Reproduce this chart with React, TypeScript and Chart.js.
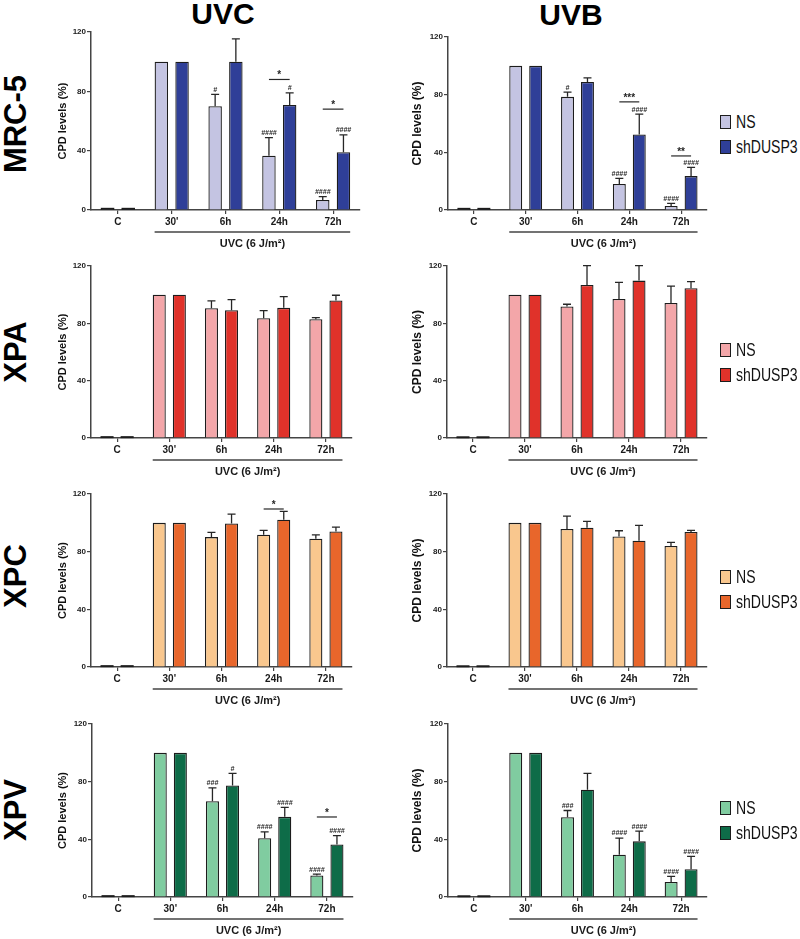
import React, { useEffect, useRef } from 'react';
import { Chart, registerables } from 'chart.js';

Chart.register(...registerables);

const SANS = '"Liberation Sans", Arial, Helvetica, sans-serif';

// ---------- data ----------
const categories = ['C', "30'", '6h', '24h', '72h'];
const yTickValues = [0, 40, 80, 120];
const seriesNames = ['NS', 'shDUSP3'];
const columnTitles = ['UVC', 'UVB'];
const rowTitles = ['MRC-5', 'XPA', 'XPC', 'XPV'];
const yAxisTitle = 'CPD levels (%)';
const doseLabel = 'UVC (6 J/m²)';

// MRC-5
const mrc5UvcNS = [0.8, 100, 70, 36.6, 6.7];
const mrc5UvcNSErr = [0, 0, 8, 12.2, 2.3];
const mrc5UvcSh = [0.8, 100, 100, 70.8, 38.9];
const mrc5UvcShErr = [0, 0, 15.3, 8.2, 11.7];
const mrc5UvcNSMarks = ['', '', '#', '####', '####'];
const mrc5UvcShMarks = ['', '', '', '#', '####'];
const mrc5UvcSig = [{ cat: 3, level: 88, label: '*' }, { cat: 4, level: 68, label: '*' }];

const mrc5UvbNS = [0.8, 100, 78.5, 18, 2.8];
const mrc5UvbNSErr = [0, 0, 3.2, 4, 1.8];
const mrc5UvbSh = [0.8, 100, 88.8, 52.4, 23.5];
const mrc5UvbShErr = [0, 0, 2.8, 14.1, 6];
const mrc5UvbNSMarks = ['', '', '#', '####', '####'];
const mrc5UvbShMarks = ['', '', '', '####', '####'];
const mrc5UvbSig = [{ cat: 3, level: 75, label: '***' }, { cat: 4, level: 37.5, label: '**' }];

// XPA
const xpaUvcNS = [0.6, 100, 90.5, 83.6, 82.9];
const xpaUvcNSErr = [0, 0, 5.1, 5.3, 1.1];
const xpaUvcSh = [0.6, 100, 89.1, 90.8, 95.9];
const xpaUvcShErr = [0, 0, 7.5, 7.9, 3.7];

const xpaUvbNS = [0.5, 100, 91.7, 97, 94.2];
const xpaUvbNSErr = [0, 0, 1.6, 11.6, 11.8];
const xpaUvbSh = [0.5, 100, 106.8, 109.8, 104.5];
const xpaUvbShErr = [0, 0, 13.4, 10.4, 4.6];

// XPC
const xpcUvcNS = [0.6, 100, 90.1, 91.7, 89];
const xpcUvcNSErr = [0, 0, 3.3, 3, 2.7];
const xpcUvcSh = [0.6, 100, 99.6, 102.2, 94];
const xpcUvcShErr = [0, 0, 6.4, 5.8, 3];
const xpcUvcSig = [{ cat: 3, level: 109.6, label: '*' }];

const xpcUvbNS = [0.5, 100, 95.7, 90.5, 83.9];
const xpcUvbNSErr = [0, 0, 9, 4, 2.5];
const xpcUvbSh = [0.5, 100, 96.6, 87.6, 93.6];
const xpcUvbShErr = [0, 0, 4.4, 10.6, 1.1];

// XPV
const xpvUvcNS = [0.6, 100, 66.5, 40.8, 15];
const xpvUvcNSErr = [0, 0, 9.2, 4.4, 0.8];
const xpvUvcSh = [0.6, 100, 77.4, 55.6, 36.4];
const xpvUvcShErr = [0, 0, 8.3, 6.5, 6.2];
const xpvUvcNSMarks = ['', '', '###', '####', '####'];
const xpvUvcShMarks = ['', '', '#', '####', '####'];
const xpvUvcSig = [{ cat: 4, level: 55.5, label: '*' }];

const xpvUvbNS = [0.5, 100, 55.4, 29.3, 10.4];
const xpvUvbNSErr = [0, 0, 4.6, 11.6, 3.9];
const xpvUvbSh = [0.5, 100, 74.4, 38.6, 19.2];
const xpvUvbShErr = [0, 0, 11.3, 7.1, 9];
const xpvUvbNSMarks = ['', '', '###', '####', '####'];
const xpvUvbShMarks = ['', '', '', '####', '####'];

const noMarks = ['', '', '', '', ''];

// colours per cell line [NS, shDUSP3]
const mrc5Colors = ['#c4c4e2', '#2f3f98'];
const xpaColors = ['#f3a6a9', '#e0322a'];
const xpcColors = ['#f9c78e', '#e8662b'];
const xpvColors = ['#80cca0', '#0e6c48'];

type Sig = { cat: number; level: number; label: string };

type PanelDef = {
  col: number;
  chartLeft: number;
  chartRight: number;
  chartTop: number;
  chartBottom: number;
  ns: number[];
  nsErr: number[];
  sh: number[];
  shErr: number[];
  nsMarks: string[];
  shMarks: string[];
  sig: Sig[];
  colors: string[];
};

const panels: PanelDef[] = [
  { col: 0, chartLeft: 91, chartRight: 360, chartTop: 32, chartBottom: 210, ns: mrc5UvcNS, nsErr: mrc5UvcNSErr, sh: mrc5UvcSh, shErr: mrc5UvcShErr, nsMarks: mrc5UvcNSMarks, shMarks: mrc5UvcShMarks, sig: mrc5UvcSig, colors: mrc5Colors },
  { col: 1, chartLeft: 448, chartRight: 707, chartTop: 37, chartBottom: 210, ns: mrc5UvbNS, nsErr: mrc5UvbNSErr, sh: mrc5UvbSh, shErr: mrc5UvbShErr, nsMarks: mrc5UvbNSMarks, shMarks: mrc5UvbShMarks, sig: mrc5UvbSig, colors: mrc5Colors },
  { col: 0, chartLeft: 91, chartRight: 352, chartTop: 266, chartBottom: 438, ns: xpaUvcNS, nsErr: xpaUvcNSErr, sh: xpaUvcSh, shErr: xpaUvcShErr, nsMarks: noMarks, shMarks: noMarks, sig: [], colors: xpaColors },
  { col: 1, chartLeft: 447, chartRight: 707, chartTop: 266, chartBottom: 438, ns: xpaUvbNS, nsErr: xpaUvbNSErr, sh: xpaUvbSh, shErr: xpaUvbShErr, nsMarks: noMarks, shMarks: noMarks, sig: [], colors: xpaColors },
  { col: 0, chartLeft: 91, chartRight: 352, chartTop: 494, chartBottom: 667, ns: xpcUvcNS, nsErr: xpcUvcNSErr, sh: xpcUvcSh, shErr: xpcUvcShErr, nsMarks: noMarks, shMarks: noMarks, sig: xpcUvcSig, colors: xpcColors },
  { col: 1, chartLeft: 447, chartRight: 707, chartTop: 494, chartBottom: 667, ns: xpcUvbNS, nsErr: xpcUvbNSErr, sh: xpcUvbSh, shErr: xpcUvbShErr, nsMarks: noMarks, shMarks: noMarks, sig: [], colors: xpcColors },
  { col: 0, chartLeft: 92, chartRight: 353, chartTop: 724, chartBottom: 897, ns: xpvUvcNS, nsErr: xpvUvcNSErr, sh: xpvUvcSh, shErr: xpvUvcShErr, nsMarks: xpvUvcNSMarks, shMarks: xpvUvcShMarks, sig: xpvUvcSig, colors: xpvColors },
  { col: 1, chartLeft: 448, chartRight: 707, chartTop: 724, chartBottom: 897, ns: xpvUvbNS, nsErr: xpvUvbNSErr, sh: xpvUvbSh, shErr: xpvUvbShErr, nsMarks: xpvUvbNSMarks, shMarks: xpvUvbShMarks, sig: [], colors: xpvColors },
];

const rowLabelY = [124, 352, 576, 810];
const legendY = [122, 350, 577, 808];

const INK = '#262626';

function makeExtras(p: PanelDef) {
  return {
    id: 'extras',
    afterDatasetsDraw(chart: any) {
      const ctx = chart.ctx;
      const ys = chart.scales.y;
      const errs = [p.nsErr, p.shErr];
      const marks = [p.nsMarks, p.shMarks];
      ctx.save();
      ctx.strokeStyle = INK;
      ctx.fillStyle = INK;
      for (let di = 0; di < 2; di++) {
        const meta = chart.getDatasetMeta(di);
        const vals = chart.data.datasets[di].data as number[];
        meta.data.forEach((bar: any, i: number) => {
          // very short bars: show their outline as a flat dark line
          if (Math.abs(bar.base - bar.y) < 3) {
            ctx.fillStyle = '#1c1c1c';
            ctx.fillRect(bar.x - bar.width / 2, bar.y - 1, bar.width, Math.max(2, bar.base - bar.y + 1));
            ctx.fillStyle = INK;
          }
          const e = errs[di][i];
          let topPx = bar.y;
          if (e > 0) {
            const ep = ys.getPixelForValue(vals[i] + e);
            ctx.beginPath();
            ctx.lineWidth = 1.3;
            ctx.moveTo(bar.x, bar.y);
            ctx.lineTo(bar.x, ep);
            ctx.moveTo(bar.x - 4, ep);
            ctx.lineTo(bar.x + 4, ep);
            ctx.stroke();
            topPx = ep;
          }
          const m = marks[di][i];
          if (m) {
            ctx.font = 'italic bold 7px ' + SANS;
            ctx.textAlign = 'center';
            ctx.textBaseline = 'bottom';
            ctx.fillText(m, bar.x, topPx - 1);
          }
        });
      }
      // significance brackets
      p.sig.forEach((s) => {
        const a = chart.getDatasetMeta(0).data[s.cat];
        const b = chart.getDatasetMeta(1).data[s.cat];
        const yp = ys.getPixelForValue(s.level);
        ctx.beginPath();
        ctx.lineWidth = 1.2;
        ctx.moveTo(a.x, yp);
        ctx.lineTo(b.x, yp);
        ctx.stroke();
        ctx.font = 'bold 10px ' + SANS;
        ctx.textAlign = 'center';
        ctx.textBaseline = 'alphabetic';
        ctx.fillText(s.label, (a.x + b.x) / 2, yp - 1);
      });
      // dose bracket line + label
      const first: any = chart.getDatasetMeta(0).data[1];
      const last: any = chart.getDatasetMeta(1).data[4];
      const x0 = first.x - first.width / 2;
      const x1 = last.x + last.width / 2;
      const lineY = p.chartBottom - p.chartTop + 12 + 22;
      ctx.beginPath();
      ctx.lineWidth = 1.5;
      ctx.strokeStyle = '#444';
      ctx.moveTo(x0, lineY);
      ctx.lineTo(x1, lineY);
      ctx.stroke();
      ctx.font = 'bold 11px ' + SANS;
      ctx.textAlign = 'center';
      ctx.textBaseline = 'middle';
      ctx.fillStyle = '#1a1a1a';
      ctx.fillText(doseLabel, (x0 + x1) / 2, lineY + 12);
      ctx.restore();
    },
  };
}

function Panel({ p }: { p: PanelDef }) {
  const ref = useRef<HTMLCanvasElement | null>(null);
  const canvasLeft = p.col === 0 ? 40 : 400;
  const canvasTop = p.chartTop - 12;
  const canvasW = p.chartRight + 8 - canvasLeft;
  const canvasH = p.chartBottom + 46 - canvasTop;
  const yAxisW = p.chartLeft - canvasLeft;
  const titleSize = p.col === 0 ? 11 : 12;
  const titleCenterX = p.col === 0 ? 63 : 418;
  const titlePad = titleCenterX - canvasLeft - (titleSize * 1.2) / 2;

  useEffect(() => {
    if (!ref.current) return;
    const chart = new Chart(ref.current, {
      type: 'bar',
      data: {
        labels: categories,
        datasets: [
          { label: seriesNames[0], data: p.ns, backgroundColor: p.colors[0], borderColor: '#1c1c1c', borderWidth: 1.3, categoryPercentage: 0.77, barPercentage: 0.65 },
          { label: seriesNames[1], data: p.sh, backgroundColor: p.colors[1], borderColor: '#1c1c1c', borderWidth: 1.3, categoryPercentage: 0.77, barPercentage: 0.65 },
        ],
      },
      options: {
        animation: false,
        responsive: false,
        maintainAspectRatio: false,
        layout: { padding: { left: 0, top: 12, right: 8, bottom: 0 } },
        plugins: { legend: { display: false }, tooltip: { enabled: false }, title: { display: false } },
        scales: {
          x: {
            offset: true,
            grid: { display: true, drawOnChartArea: false, drawTicks: true, tickLength: 4, offset: false, color: '#444', lineWidth: 1.2 },
            border: { display: true, color: '#444', width: 1.5 },
            ticks: { color: '#1a1a1a', font: { family: SANS, size: 10, weight: 'bold' }, padding: 2, maxRotation: 0, autoSkip: false },
            afterFit: (s: any) => { s.height = 46; },
          },
          y: {
            min: 0,
            max: 120,
            afterBuildTicks: (s: any) => { s.ticks = yTickValues.map((v) => ({ value: v })); },
            grid: { display: true, drawOnChartArea: false, drawTicks: true, tickLength: 4, color: '#444', lineWidth: 1.2 },
            border: { display: true, color: '#444', width: 1.5 },
            ticks: { color: '#1a1a1a', font: { family: SANS, size: 8, weight: 'bold' }, padding: 1 },
            title: { display: true, text: yAxisTitle, color: '#111', font: { family: SANS, size: titleSize, weight: 'bold' }, padding: { top: titlePad, bottom: 0 } },
            afterFit: (s: any) => { s.width = yAxisW; },
          },
        },
      },
      plugins: [makeExtras(p)],
    } as any);
    return () => chart.destroy();
  }, []);

  return (
    <canvas
      ref={ref}
      width={canvasW}
      height={canvasH}
      style={{ position: 'absolute', left: canvasLeft, top: canvasTop, width: canvasW, height: canvasH }}
    />
  );
}

function Legend({ y, colors }: { y: number; colors: string[] }) {
  return (
    <>
      {seriesNames.map((n, i) => (
        <div key={n} style={{ position: 'absolute', left: 720, top: y + i * 25 - 10, height: 20, display: 'flex', alignItems: 'center' }}>
          <div style={{ width: 11, height: 14, background: colors[i], border: '1.3px solid #1c1c1c', boxSizing: 'border-box', flex: 'none' }} />
          <span style={{ marginLeft: 5, fontFamily: SANS, fontSize: 18, color: '#111', lineHeight: '20px', display: 'inline-block', transform: 'scaleX(0.78)', transformOrigin: 'left center', whiteSpace: 'nowrap' }}>{n}</span>
        </div>
      ))}
    </>
  );
}

export default function App() {
  const legendColors = [mrc5Colors, xpaColors, xpcColors, xpvColors];
  return (
    <div style={{ position: 'absolute', left: 0, top: 0, width: 800, height: 939, background: '#fff', overflow: 'hidden' }}>
      <div style={{ position: 'absolute', left: 223, top: 14, transform: 'translate(-50%,-50%)', fontFamily: SANS, fontWeight: 'bold', fontSize: 30, lineHeight: 1, color: '#000' }}>{columnTitles[0]}</div>
      <div style={{ position: 'absolute', left: 571, top: 15, transform: 'translate(-50%,-50%)', fontFamily: SANS, fontWeight: 'bold', fontSize: 30, lineHeight: 1, color: '#000' }}>{columnTitles[1]}</div>
      {rowTitles.map((t, i) => (
        <div key={t} style={{ position: 'absolute', left: 15, top: rowLabelY[i], transform: 'translate(-50%,-50%) rotate(-90deg)', fontFamily: SANS, fontWeight: 'bold', fontSize: 31, lineHeight: 1, color: '#000', whiteSpace: 'nowrap' }}>{t}</div>
      ))}
      {panels.map((p, i) => (
        <Panel key={i} p={p} />
      ))}
      {legendY.map((y, i) => (
        <Legend key={i} y={y} colors={legendColors[i]} />
      ))}
    </div>
  );
}
